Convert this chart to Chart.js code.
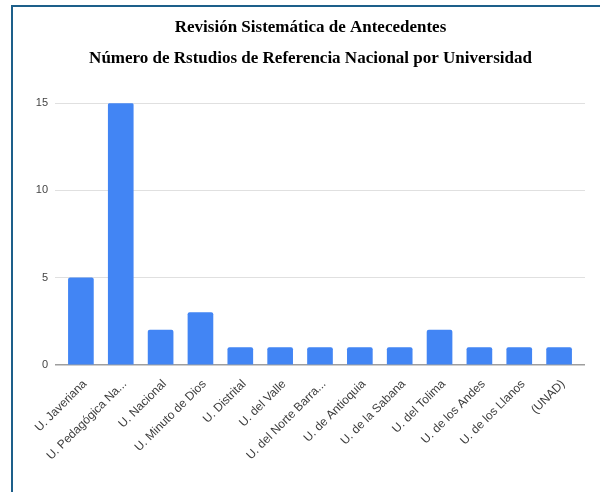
<!DOCTYPE html>
<html>
<head>
<meta charset="utf-8">
<script src="https://cdn.jsdelivr.net/npm/chart.js"></script>
<style>
  body { margin: 0; background: #fff; }
  #wrap { position: relative; width: 600px; height: 492px; }
  #frame {
    position: absolute; left: 11px; top: 5px; right: 0; bottom: 0;
    border-top: 2px solid #1d5f8a; border-left: 2px solid #1d5f8a;
    pointer-events: none;
  }
</style>
</head>
<body>
<div id="wrap">
  <canvas id="myChart" width="600" height="492"></canvas>
  <div id="frame"></div>
</div>
<script>
const titleLines = [
  "Revisión Sistemática de Antecedentes",
  "Número de Rstudios de Referencia Nacional por Universidad",
];
const universities = [
  "U. Javeriana",
  "U. Pedagógica Na...",
  "U. Nacional",
  "U. Minuto de Dios",
  "U. Distrital",
  "U. del Valle",
  "U. del Norte Barra...",
  "U. de Antioquia",
  "U. de la Sabana",
  "U. del Tolima",
  "U. de los Andes",
  "U. de los Llanos",
  "(UNAD)",
];
const estudios = [5, 15, 2, 3, 1, 1, 1, 1, 1, 2, 1, 1, 1];
const yTicks = [0, 5, 10, 15];

const points = estudios.map((v, i) => ({ x: i, y: v }));

let ctx = document.getElementById("myChart").getContext("2d");
let chart = new Chart(ctx, {
  type: "bar",
  data: {
    datasets: [
      {
        label: "Estudios",
        data: points,
        backgroundColor: "#4285F4",
        barThickness: 25,
        borderRadius: 2,
        borderSkipped: "bottom",
      },
    ],
  },
  options: {
    responsive: false,
    animation: false,
    layout: { padding: { left: 36, right: 15, top: 0, bottom: 0 } },
    plugins: {
      legend: { display: false },
      tooltip: { enabled: false },
      title: {
        display: true,
        text: titleLines,
        color: "#000",
        font: { family: "'Liberation Serif', 'Times New Roman', serif", size: 17, weight: "bold", lineHeight: 1.77 },
        padding: { top: 13, bottom: 30 },
      },
    },
    scales: {
      x: {
        type: "linear",
        offset: false,
        min: -0.65,
        max: 12.65,
        afterBuildTicks: (s) => {
          s.ticks = universities.map((_, i) => ({ value: i }));
        },
        afterFit: (s) => {
          s.height = 127;
          s.paddingLeft = 0;
          s.paddingRight = 0;
        },
        grid: { display: false },
        border: { display: false },
        ticks: {
          autoSkip: false,
          maxRotation: 45,
          minRotation: 45,
          padding: 4,
          labelOffset: 4,
          color: "#3c3c3c",
          font: { family: "'Liberation Sans', Arial, sans-serif", size: 12 },
          callback: (v) => universities[v],
        },
      },
      y: {
        min: 0,
        max: 15,
        afterBuildTicks: (s) => {
          s.ticks = yTicks.map((v) => ({ value: v }));
        },
        afterFit: (s) => {
          s.width = 19;
        },
        border: { display: false },
        grid: {
          drawTicks: false,
          color: (c) => (c.tick && c.tick.value === 0 ? "#9e9e9e" : "#e0e0e0"),
          lineWidth: (c) => (c.tick && c.tick.value === 0 ? 1.5 : 1),
        },
        ticks: {
          padding: 7,
          color: "#444",
          font: { family: "'Liberation Sans', Arial, sans-serif", size: 11 },
        },
      },
    },
  },
});
</script>
</body>
</html>
